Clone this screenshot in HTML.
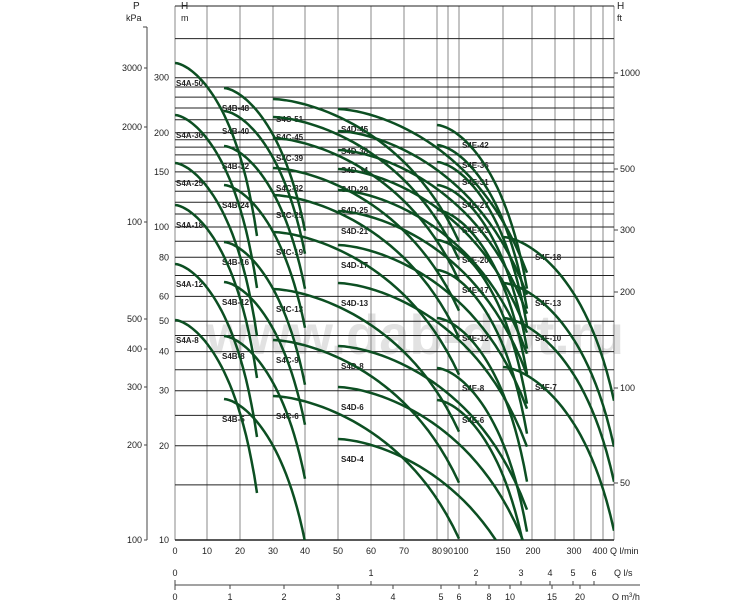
<!DOCTYPE html>
<html><head><meta charset="utf-8"><style>
html,body{margin:0;padding:0;background:#fff;}
svg{display:block;}
text{font-family:"Liberation Sans Narrow","Liberation Sans",sans-serif;fill:#222;}
</style></head><body>
<svg id="s" width="750" height="600" viewBox="0 0 750 600" xmlns="http://www.w3.org/2000/svg"></svg>
<script>
var s=document.getElementById('s'),o='';
function Y(h){return 540-313*Math.log10(h/10);}
o+='<defs><clipPath id="c"><rect x="175" y="6" width="439" height="534"/></clipPath></defs>';
o+='<text x="206" y="354" font-size="56" font-weight="bold" textLength="418" lengthAdjust="spacingAndGlyphs" style="fill:#e2e2e2;font-family:Liberation Sans,sans-serif">www.dab-dwt.ru</text>';
var vx=[175,207,240,273,305,338,371,404,437,448,459,503,532,555,574,591,603,614];
vx.forEach(function(x){o+='<line x1="'+x+'" y1="6" x2="'+x+'" y2="540" stroke="#888" stroke-width="1"/>';});
var hs=[10,15,20,25,30,35,40,45,50,60,70,80,90,100,110,120,130,140,150,160,170,180,190,200,220,240,260,280,300,400];
hs.forEach(function(h){var y=Y(h).toFixed(1);o+='<line x1="175" y1="'+y+'" x2="614" y2="'+y+'" stroke="#222" stroke-width="1"/>';});
o+='<line x1="175" y1="6" x2="614" y2="6" stroke="#222"/>';
o+='<line x1="175" y1="540" x2="614" y2="540" stroke="#222" stroke-width="1.5"/>';
var fam=[
 {x0:175,x1:257,r:.28,s:[63,115,163,205,264,320],n:['50','36','25','18','12','8'],L:'S4A',lx:176},
 {x0:224,x1:305,r:.35,s:[88,111,146,185,242,282,336,399],n:['48','40','32','24','16','12','8','5'],L:'S4B',lx:222},
 {x0:273,x1:459,r:.35,s:[99,117,138,168,195,232,289,340,396],n:['51','45','39','32','25','19','13','9','6'],L:'S4C',lx:276},
 {x0:338,x1:527,r:.3,s:[109,131,150,169,190,211,245,283,346,387,439],n:['45','38','34','29','25','21','17','13','8','6','4'],L:'S4D',lx:341},
 {x0:437,x1:527,r:.3,s:[125,145,162,185,210,240,270,318,368,400],n:['42','36','31','27','23','20','17','12','8','6'],L:'S4E',lx:462},
 {x0:503,x1:614,r:.3,s:[237,283,318,367],n:['18','13','10','7'],L:'S4F',lx:535}
];
var g='';
fam.forEach(function(f){
 f.s.forEach(function(y0,i){
  var H0=Math.pow(10,(540-y0)/313)*10,p='';
  for(var k=0;k<=30;k++){var t=k/30,x=f.x0+(f.x1-f.x0)*t,h=H0*(1-(1-f.r)*Math.pow(t,1.6));
   p+=(k?'L':'M')+x.toFixed(1)+' '+Y(h).toFixed(1);}
  g+='<path d="'+p+'" fill="none" stroke="#0c4f22" stroke-width="2.5"/>';
  o+='<text x="'+f.lx+'" y="'+(y0+23)+'" font-size="8" font-weight="bold">'+f.L+'-'+f.n[i]+'</text>';
 });
});
o+='<g clip-path="url(#c)">'+g+'</g>';
o+='<line x1="147" y1="27" x2="147" y2="540" stroke="#444"/>';
[[3000,68],[2000,127],[100,222],[500,319],[400,349],[300,387],[200,445],[100,540]].forEach(function(a){
 o+='<line x1="144" y1="'+a[1]+'" x2="147" y2="'+a[1]+'" stroke="#444"/><text x="142" y="'+(a[1]+3)+'" font-size="9" text-anchor="end">'+a[0]+'</text>';});
o+='<line x1="143" y1="27" x2="147" y2="27" stroke="#444"/>';
o+='<text x="133" y="9" font-size="10">P</text><text x="126" y="21" font-size="9">kPa</text>';
o+='<text x="181" y="9" font-size="10">H</text><text x="181" y="21" font-size="9">m</text>';
[300,200,150,100,80,60,50,40,30,20,10].forEach(function(h){var y=Y(h);
 o+='<text x="169" y="'+(y+3).toFixed(1)+'" font-size="9" text-anchor="end">'+h+'</text>';});
o+='<text x="617" y="9" font-size="10">H</text><text x="617" y="21" font-size="9">ft</text>';
[[1000,73],[500,169],[300,230],[200,292],[100,388],[50,483]].forEach(function(a){
 o+='<line x1="614" y1="'+a[1]+'" x2="618" y2="'+a[1]+'" stroke="#444"/><text x="620" y="'+(a[1]+3)+'" font-size="9">'+a[0]+'</text>';});
var lm=[[0,175],[10,207],[20,240],[30,273],[40,305],[50,338],[60,371],[70,404],[80,437],[90,448],[100,461],[150,503],[200,533],[300,574],[400,600]];
lm.forEach(function(a){o+='<text x="'+a[1]+'" y="554" font-size="9" text-anchor="middle">'+a[0]+'</text>';});
o+='<text x="610" y="554" font-size="9">Q l/min</text>';
o+='<line x1="175" y1="585" x2="640" y2="585" stroke="#444"/><line x1="175" y1="580" x2="175" y2="590" stroke="#444"/>';
[[0,175],[1,371],[2,476],[3,521],[4,550],[5,573],[6,594]].forEach(function(a){
 o+='<line x1="'+a[1]+'" y1="581" x2="'+a[1]+'" y2="585" stroke="#444"/><text x="'+a[1]+'" y="576" font-size="9" text-anchor="middle">'+a[0]+'</text>';});
o+='<text x="614" y="576" font-size="9">Q l/s</text>';
[[0,175],[1,230],[2,284],[3,338],[4,393],[5,441],[6,459],[8,489],[10,510],[15,552],[20,580]].forEach(function(a){
 o+='<line x1="'+a[1]+'" y1="585" x2="'+a[1]+'" y2="589" stroke="#444"/><text x="'+a[1]+'" y="600" font-size="9" text-anchor="middle">'+a[0]+'</text>';});
o+='<text x="612" y="600" font-size="9">Q m<tspan font-size="6" dy="-3">3</tspan><tspan dy="3">/h</tspan></text>';
s.innerHTML=o;
</script>
</body></html>
